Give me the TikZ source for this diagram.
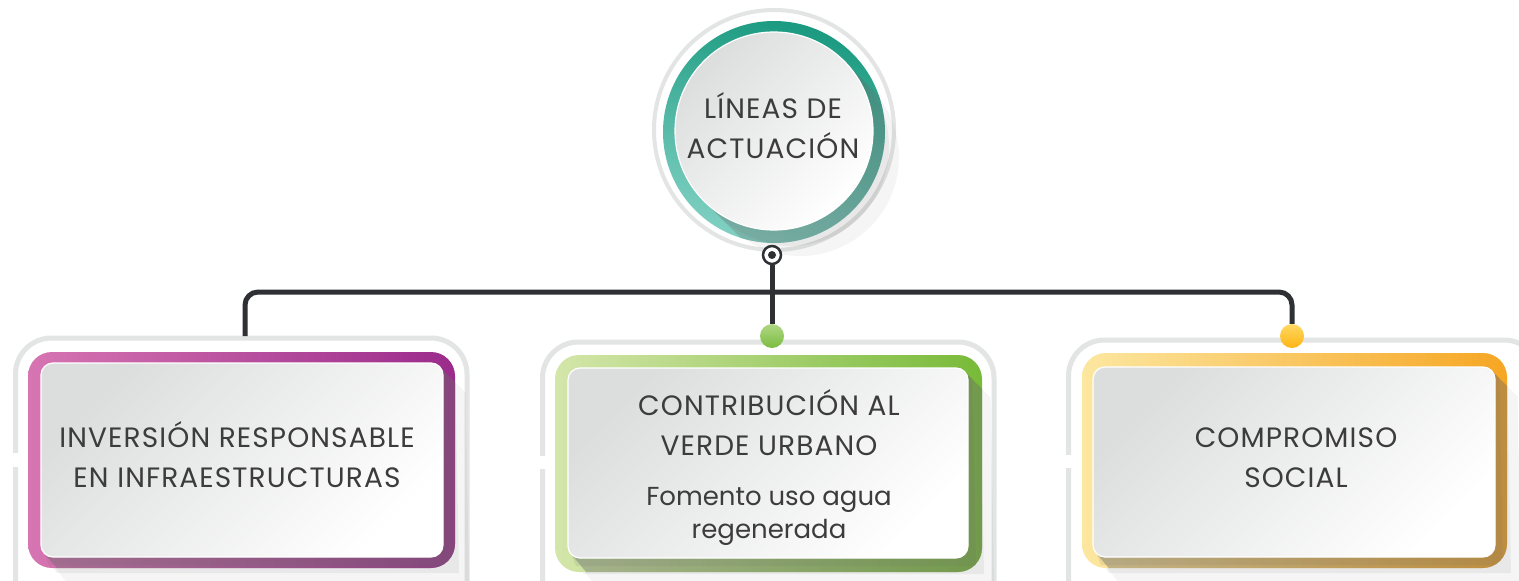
\documentclass[tikz,border=0pt]{standalone}
\usepackage{fontspec}
\setmainfont{Poppins}
\newfontfamily\capsfont[LetterSpace=4]{Poppins}
\usetikzlibrary{calc}
\definecolor{frameG}{HTML}{E3E4E4}
\definecolor{connC}{HTML}{2E3034}
\definecolor{txtC}{HTML}{3C3C3C}
\definecolor{boxG}{HTML}{DCDDDD}
\definecolor{shadC}{HTML}{6A6A6A}
\definecolor{pinkL}{HTML}{D775B2}
\definecolor{pinkM}{HTML}{C81B8B}
\definecolor{pinkR}{HTML}{9B2B8B}
\definecolor{grnL}{HTML}{D4E6AA}
\definecolor{grnM}{HTML}{A9CF6E}
\definecolor{grnR}{HTML}{78BA38}
\definecolor{ylwL}{HTML}{FCE7A0}
\definecolor{ylwM}{HTML}{FFCA2A}
\definecolor{ylwR}{HTML}{F6A623}
\definecolor{tealT}{HTML}{1A9A80}
\definecolor{tealM}{HTML}{12B09E}
\definecolor{tealB}{HTML}{80D0C2}
\definecolor{gdotT}{HTML}{B0D684}
\definecolor{gdotB}{HTML}{7ABD40}
\definecolor{ydotT}{HTML}{FFD862}
\definecolor{ydotB}{HTML}{FDB514}
% hull of a rounded box swept towards bottom right: L T R B d
\newcommand\hullrect[5]{({#3-3.5},{#2+3.5}) -- ({#3-3.5+#5},{#2+3.5+#5}) -- ({#3+#5},{#4+#5}) -- ({#1+#5},{#4+#5}) -- ({#1+3.5},{#4-3.5}) -- cycle}
% hull of a circle swept towards bottom right: x y r d
\newcommand\hullcirc[4]{(#1,#2) ++(135:#3) arc[start angle=135,end angle=315,radius=#3] -- ++(#4,#4) arc[start angle=-45,end angle=135,radius=#3] -- cycle}
\tikzset{
  grayframe/.style={draw=frameG, line width=5pt},
  conn/.style={draw=connC, line width=5pt},
  inbox/.style={rectangle, rounded corners=12pt, draw=white, line width=1.2pt,
    top color=boxG, bottom color=white, shading angle=45, inner sep=0pt},
  lbl/.style={anchor=base, inner sep=0pt, text=txtC, font=\capsfont\fontsize{28}{30}\selectfont},
  sublbl/.style={anchor=base, inner sep=0pt, text=txtC, font=\fontsize{26}{30}\selectfont},
  dotnode/.style={circle, minimum size=24pt, inner sep=0pt},
}
\begin{document}
\begin{tikzpicture}[x=1pt,y=-1pt]
\clip (0,0) rectangle (1519,581);
\fill[white] (0,0) rectangle (1519,581);

% ---------- central circle ----------
\draw[grayframe, line width=4pt] (774,130) circle (120);
\fill[black, opacity=.04] \hullcirc{774}{131}{99}{26};
\fill[black, opacity=.05] \hullcirc{774}{131}{99}{16};
\shade[top color=tealT, middle color=tealM, bottom color=tealB, shading angle=-15] (774,132) circle (111);
\begin{scope}
  \clip (774,132) circle (111);
  \fill[shadC, opacity=.26] \hullcirc{774}{131}{99}{34};
  \fill[shadC, opacity=.12] \hullcirc{774}{131}{99}{14};
\end{scope}
\node[circle, draw=white, line width=1.2pt, top color=boxG, bottom color=white, shading angle=45,
      minimum size=198pt, inner sep=0pt] (root) at (774,131) {};
\node[lbl] (rootA) at (773,118) {LÍNEAS DE};
\node[lbl] (rootB) at (773,158) {ACTUACIÓN};

% ---------- left box ----------
\draw[grayframe, rounded corners=36pt] (15.5,338) rectangle (467,640);
\fill[white] (9,453) rectangle (22,467);
\fill[black, opacity=.04] \hullrect{41}{363}{443}{557}{26};
\fill[black, opacity=.05] \hullrect{41}{363}{443}{557}{16};
\shade[rounded corners=24pt, left color=pinkL, middle color=pinkM, right color=pinkR] (28,352) rectangle (455,568);
\begin{scope}
  \clip[rounded corners=24pt] (28,352) rectangle (455,568);
  \fill[shadC, opacity=.40] \hullrect{41}{363}{443}{557}{40};
  \fill[shadC, opacity=.12] \hullrect{41}{363}{443}{557}{8};
\end{scope}
\node[inbox, minimum width=402pt, minimum height=194pt] (b1) at (242,460) {};
\node[lbl] (b1a) at (237,447) {INVERSIÓN RESPONSABLE};
\node[lbl] (b1b) at (237,487) {EN INFRAESTRUCTURAS};

% ---------- middle box ----------
\draw[grayframe, rounded corners=36pt] (542.5,342) rectangle (994,640);
\fill[white] (536,456) rectangle (549,469);
\fill[black, opacity=.04] \hullrect{568}{368}{968}{558}{26};
\fill[black, opacity=.05] \hullrect{568}{368}{968}{558}{16};
\shade[rounded corners=24pt, left color=grnL, middle color=grnM, right color=grnR] (555,355) rectangle (982,572);
\begin{scope}
  \clip[rounded corners=24pt] (555,355) rectangle (982,572);
  \fill[shadC, opacity=.40] \hullrect{568}{368}{968}{558}{40};
  \fill[shadC, opacity=.12] \hullrect{568}{368}{968}{558}{8};
\end{scope}
\node[inbox, minimum width=400pt, minimum height=190pt] (b2) at (768,463) {};
\node[lbl] (b2a) at (769,415) {CONTRIBUCIÓN AL};
\node[lbl] (b2b) at (769,455) {VERDE URBANO};
\node[sublbl] (b2c) at (769,505) {Fomento uso agua};
\node[sublbl] (b2d) at (769,538) {regenerada};

% ---------- right box ----------
\draw[grayframe, rounded corners=36pt] (1068.5,340) rectangle (1540,640);
\fill[white] (1062,455) rectangle (1075,468);
\fill[black, opacity=.04] \hullrect{1093}{367}{1495}{557}{26};
\fill[black, opacity=.05] \hullrect{1093}{367}{1495}{557}{16};
\shade[rounded corners=24pt, left color=ylwL, middle color=ylwM, right color=ylwR] (1082,353) rectangle (1507,568);
\begin{scope}
  \clip[rounded corners=24pt] (1082,353) rectangle (1507,568);
  \fill[shadC, opacity=.40] \hullrect{1093}{367}{1495}{557}{40};
  \fill[shadC, opacity=.12] \hullrect{1093}{367}{1495}{557}{8};
\end{scope}
\node[inbox, minimum width=402pt, minimum height=190pt] (b3) at (1294,462) {};
\node[lbl] (b3a) at (1296,447) {COMPROMISO};
\node[lbl] (b3b) at (1296,487) {SOCIAL};

% ---------- connectors ----------
\node[circle, draw=connC, line width=2.5pt, fill=white, minimum size=18pt, inner sep=0pt] (hub) at (772,255) {};
\node[circle, fill=connC, minimum size=8pt, inner sep=0pt] (hubc) at (hub.center) {};
\node[dotnode, top color=gdotT, bottom color=gdotB] (gdot) at (772,336) {};
\node[dotnode, top color=ydotT, bottom color=ydotB] (ydot) at (1292,336) {};
\coordinate (jl) at (245,336);
\coordinate (bar) at (772,292);
\draw[conn] (hub) -- (gdot);
\draw[conn, rounded corners=13pt] (jl) |- (bar) -| (ydot);
\end{tikzpicture}
\end{document}
